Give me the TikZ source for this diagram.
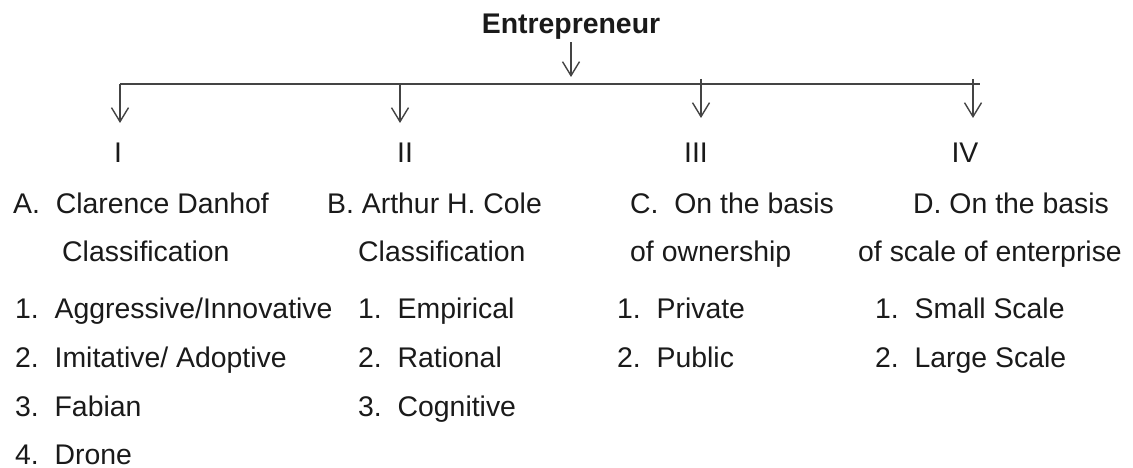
\documentclass[tikz,border=0pt]{standalone}
\usepackage{fontspec}
\setmainfont{Liberation Sans}
\usetikzlibrary{arrows.meta}
\definecolor{ink}{HTML}{1A1A1A}
\definecolor{wire}{HTML}{444444}
\tikzset{
  txt/.style={inner sep=0pt, anchor=base west, text=ink, font=\fontsize{28.4}{34}\selectfont},
  ctxt/.style={txt, anchor=base},
  conn/.style={draw=wire, line width=1.6pt},
  arr/.style={conn, -{Straight Barb[length=14pt,width=17pt,line width=1.4pt]}}
}
\begin{document}
\begin{tikzpicture}[x=1pt,y=-1pt]
\useasboundingbox[fill=white] (0,0) rectangle (1133,468);
% root
\node[ctxt, font=\fontsize{28.4}{34}\selectfont\bfseries] (ent) at (571,34) {Entrepreneur};
% bar
\coordinate (bl) at (120,84);
\coordinate (br) at (980,84);
\coordinate (bm) at (571,77);
\draw[conn] (bl) -- (br);
\draw[arr] (ent.south -| bm) ++(0,2) coordinate (es) -- (bm);
% branch points
\coordinate (b1) at (120,84);  \coordinate (e1) at (120,123);
\coordinate (b2) at (400,84);  \coordinate (e2) at (400,123);
\coordinate (b3) at (701,79);  \coordinate (e3) at (701,118);
\coordinate (b4) at (973,79);  \coordinate (e4) at (973,118);
\draw[arr] (b1) -- (e1);
\draw[arr] (b2) -- (e2);
\draw[arr] (b3) -- (e3);
\draw[arr] (b4) -- (e4);
% roman numerals
\node[ctxt] (r1) at (118,163) {I};
\node[ctxt] (r2) at (405,163) {II};
\node[ctxt] (r3) at (696,163) {III};
\node[ctxt] (r4) at (965,163) {IV};
% headings
\node[txt] (h1a) at (13,213) {A.\ \ Clarence Danhof};
\node[txt] (h1b) at (62,261) {Classification};
\node[txt] (h2a) at (327,213) {B. Arthur H. Cole};
\node[txt] (h2b) at (358,261) {Classification};
\node[txt] (h3a) at (630,213) {C.\ \ On the basis};
\node[txt] (h3b) at (630,261) {of ownership};
\node[txt] (h4a) at (913,213) {D. On the basis};
\node[txt] (h4b) at (858,261) {of scale of enterprise};
% column 1 list
\node[txt] (l11) at (15,318) {1.\ \ Aggressive/Innovative};
\node[txt] (l12) at (15,367) {2.\ \ Imitative/ Adoptive};
\node[txt] (l13) at (15,416) {3.\ \ Fabian};
\node[txt] (l14) at (15,464) {4.\ \ Drone};
% column 2 list
\node[txt] (l21) at (358,318) {1.\ \ Empirical};
\node[txt] (l22) at (358,367) {2.\ \ Rational};
\node[txt] (l23) at (358,416) {3.\ \ Cognitive};
% column 3 list
\node[txt] (l31) at (617,318) {1.\ \ Private};
\node[txt] (l32) at (617,367) {2.\ \ Public};
% column 4 list
\node[txt] (l41) at (875,318) {1.\ \ Small Scale};
\node[txt] (l42) at (875,367) {2.\ \ Large Scale};
\end{tikzpicture}
\end{document}
